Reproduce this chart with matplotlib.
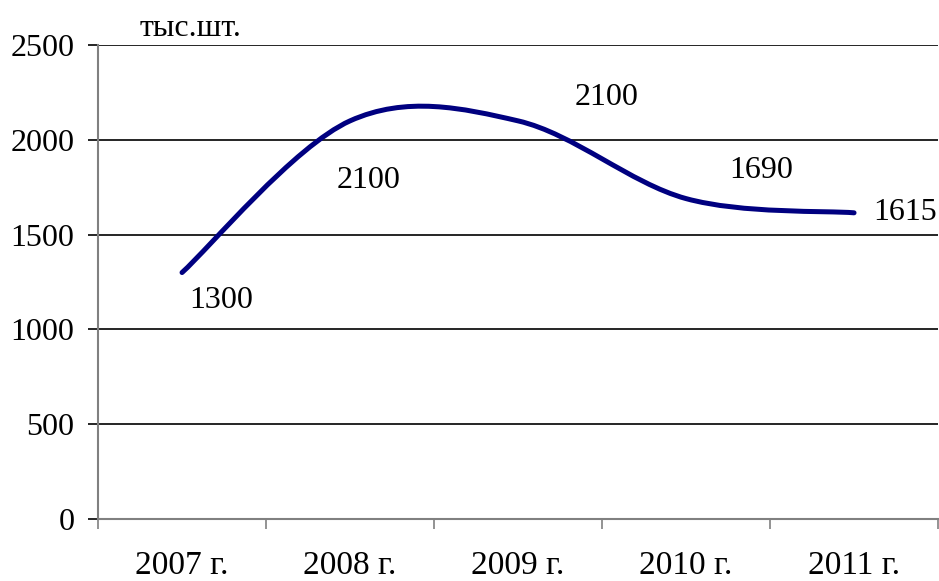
import matplotlib
matplotlib.use('Agg')
import matplotlib.pyplot as plt
from matplotlib.path import Path
from matplotlib.patches import PathPatch

# данные графика
years = ['2007 г.', '2008 г.', '2009 г.', '2010 г.', '2011 г.']
values = [1300, 2100, 2100, 1690, 1615]
label_offsets = [(28, -20), (13, -43), (64, 17), (54, 20), (37, 0)]  # смещения подписей, pt
y_ticks = [0, 500, 1000, 1500, 2000, 2500]

plt.rcParams['font.family'] = ['Liberation Serif', 'DejaVu Serif']

fig = plt.figure(figsize=(9.39, 5.81), dpi=100)
ax = fig.add_axes([0.1044, 0.1067, 0.8946, 0.8158])

# сглаженная линия как в Excel (кривые Безье)
pts = list(zip(range(len(values)), values))
verts = [pts[0]]
codes = [Path.MOVETO]
for i in range(len(pts) - 1):
    p_prev = pts[max(i - 1, 0)]
    p0 = pts[i]
    p1 = pts[i + 1]
    p_next = pts[min(i + 2, len(pts) - 1)]
    c1 = (p0[0] + (p1[0] - p_prev[0]) / 6, p0[1] + (p1[1] - p_prev[1]) / 6)
    c2 = (p1[0] - (p_next[0] - p0[0]) / 6, p1[1] - (p_next[1] - p0[1]) / 6)
    verts += [c1, c2, p1]
    codes += [Path.CURVE4] * 3
ax.add_patch(PathPatch(Path(verts, codes), facecolor='none', edgecolor='#000080',
                       lw=3.6, capstyle='round', joinstyle='round', zorder=3))

for i, v in enumerate(values):
    ax.annotate(str(v), (i, v), xytext=label_offsets[i], textcoords='offset points',
                ha='center', va='center', fontsize=23)

ax.set_xlim(-0.5, len(years) - 0.5)
ax.set_ylim(0, 2500)
ax.set_yticks(y_ticks)
ax.set_yticklabels([str(t) for t in y_ticks], fontsize=23)
ax.yaxis.grid(True, color='black', lw=1.2)
ax.tick_params(axis='y', length=7, width=1.2, color='black', pad=10)

ax.set_xticks([i - 0.5 for i in range(len(years) + 1)])
ax.set_xticklabels([])
ax.set_xticks(range(len(years)), minor=True)
ax.set_xticklabels(years, minor=True, fontsize=24)
ax.tick_params(axis='x', which='major', length=7, width=1.2, color='#808080', direction='out')
ax.tick_params(axis='x', which='minor', length=0, pad=23)

for s in ['top', 'right']:
    ax.spines[s].set_visible(False)
for s in ['left', 'bottom']:
    ax.spines[s].set_color('#808080')
    ax.spines[s].set_linewidth(1.5)
    ax.spines[s].set_zorder(4)

fig.text(191 / 939, 1 - 29 / 581, 'тыс.шт.', ha='center', va='center', fontsize=23)

fig.savefig('out.png', dpi=100)
